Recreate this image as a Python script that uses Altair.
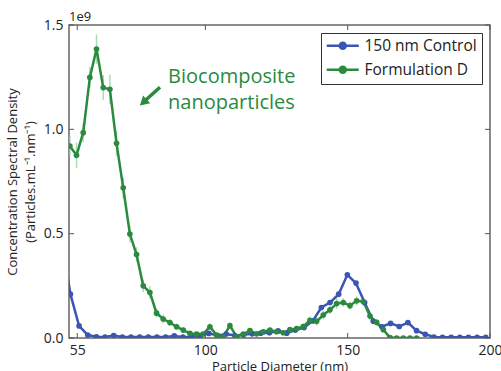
import altair as alt
import pandas as pd

series_names = ["150 nm Control", "Formulation D"]
series_colors = ["#3a56b0", "#2a8a3e"]

green_x = [52.4, 54.74, 57.09, 59.43, 61.77, 64.12, 66.46, 68.8, 71.14, 73.49,
           75.83, 78.17, 80.52, 82.86, 85.2, 87.55, 89.89, 92.23, 94.57, 96.92,
           99.26, 101.6, 103.95, 106.29, 108.63, 110.98, 113.32, 115.66, 118.0, 120.35,
           122.69, 125.03, 127.38, 129.72, 132.06, 134.41, 136.75, 139.09, 141.43, 143.78,
           146.12, 148.46, 150.81, 153.15, 155.49, 157.84, 160.18, 162.52, 164.86, 167.21,
           169.55, 171.89, 174.24]
green_y = [0.92, 0.876, 0.984, 1.249, 1.385, 1.20, 1.192, 0.933, 0.72, 0.498,
           0.40, 0.25, 0.218, 0.119, 0.091, 0.074, 0.054, 0.038, 0.022, 0.019,
           0.019, 0.054, 0.014, 0.006, 0.059, 0.006, 0.019, 0.035, 0.02, 0.03,
           0.038, 0.03, 0.025, 0.04, 0.045, 0.055, 0.085, 0.08, 0.11, 0.135,
           0.165, 0.17, 0.155, 0.178, 0.175, 0.105, 0.075, 0.04, 0.002, 0.0,
           0.0, 0.0, 0.0]
green_err = [0.05, 0.06, 0.045, 0.05, 0.07, 0.06, 0.07, 0.06, 0.05, 0.04,
             0.035, 0.03, 0.03, 0.02, 0.02, 0.015, 0.015, 0.012, 0.01, 0.01,
             0.01, 0.015, 0.01, 0.008, 0.015, 0.008, 0.01, 0.012, 0.01, 0.01,
             0.012, 0.01, 0.01, 0.012, 0.012, 0.015, 0.018, 0.02, 0.02, 0.02,
             0.025, 0.02, 0.02, 0.022, 0.02, 0.02, 0.015, 0.012, 0.005, 0.003,
             0.003, 0.003, 0.003]

blue_x = [49.56, 52.6, 55.64, 58.68, 61.72, 64.76, 67.8, 70.84, 73.88, 76.92,
          79.96, 83.0, 86.04, 89.08, 92.12, 95.16, 98.2, 101.24, 104.28, 107.32,
          110.36, 113.4, 116.44, 119.48, 122.52, 125.56, 128.6, 131.64, 134.68, 137.72,
          140.76, 143.8, 146.84, 149.88, 152.92, 155.96, 159.0, 162.04, 165.08, 168.12,
          171.16, 174.2, 177.24, 180.28, 183.32, 186.36, 189.4, 192.44, 195.48, 198.52]
blue_y = [0.47, 0.21, 0.058, 0.014, 0.006, 0.005, 0.012, 0.005, 0.005, 0.005,
          0.005, 0.005, 0.005, 0.01, 0.005, 0.005, 0.01, 0.022, 0.012, 0.019,
          0.012, 0.015, 0.02, 0.023, 0.025, 0.034, 0.023, 0.038, 0.05, 0.082,
          0.146, 0.17, 0.21, 0.303, 0.263, 0.17, 0.08, 0.054, 0.07, 0.055,
          0.074, 0.035, 0.018, 0.005, 0.003, 0.003, 0.003, 0.003, 0.003, 0.003]

x_ticks = [55, 100, 150, 200]
y_ticks = [0.0, 0.5, 1.0, 1.5]

annot_x = [86.9, 86.9]
annot_y = [1.25, 1.125]
annot_text = ["Biocomposite", "nanoparticles"]
arrow_tail = (84.06, 1.202)
arrow_body_end = (78.3, 1.131)
arrow_head = (78.2, 1.129)

W, H = 421, 313
FONT = "Open Sans"
X_TITLE = "Particle Diameter (nm)"
Y_TITLE = ["Concentration Spectral Density", "(Particles.mL\u207b\u00b9.nm\u207b\u00b9)"]

x_scale = alt.Scale(domain=[52.1, 200], nice=False, zero=False)
y_scale = alt.Scale(domain=[0, 1.5], nice=False)

x_axis = alt.Axis(values=x_ticks, format="d", title=X_TITLE,
                  ticks=False, domain=False, grid=False, labelPadding=5,
                  titlePadding=3, labelFlush=False)
y_axis = alt.Axis(values=y_ticks, format=".1f", title=Y_TITLE,
                  ticks=False, domain=False, grid=False, labelPadding=6,
                  titlePadding=6, labelFlush=False)


def X(field):
    return alt.X(field, scale=x_scale, axis=x_axis, title=X_TITLE)


def Y(field):
    return alt.Y(field, scale=y_scale, axis=y_axis, title=Y_TITLE)


df = pd.concat([
    pd.DataFrame({"x": blue_x, "y": blue_y, "series": series_names[0]}),
    pd.DataFrame({"x": green_x, "y": green_y, "series": series_names[1]}),
], ignore_index=True)
gdf = pd.DataFrame({"x": green_x, "y": green_y, "err": green_err})

legend_path = "M-3.2,0L3.2,0M-0.6,0A0.6,0.6,0,1,1,0.6,0A0.6,0.6,0,1,1,-0.6,0Z"
color_enc = alt.Color("series:N", scale=alt.Scale(domain=series_names, range=series_colors),
                      legend=alt.Legend(title=None, orient="top-right", offset=8,
                                        fillColor="white", strokeColor="#333",
                                        padding=5, labelFontSize=15.5, labelFont=FONT,
                                        labelColor="#222", symbolType=legend_path,
                                        symbolSize=100, symbolStrokeWidth=2.5,
                                        symbolOffset=9, labelOffset=14, rowPadding=6))

err = alt.Chart(gdf).transform_calculate(
    lo="datum.y - datum.err", hi="datum.y + datum.err"
).mark_rule(color="#86cc92", opacity=0.7, strokeWidth=1.5, clip=True).encode(
    x=X("x:Q"), y=Y("lo:Q"), y2="hi:Q",
)

lines = alt.Chart(df).mark_line(strokeWidth=2.5, clip=True).encode(
    x=X("x:Q"), y=Y("y:Q"), color=color_enc, order="x:Q")
points = alt.Chart(df).mark_circle(size=32, opacity=1, clip=True).encode(
    x=X("x:Q"), y=Y("y:Q"), color=color_enc)

xt = pd.DataFrame({"x": x_ticks})
yt = pd.DataFrame({"y": y_ticks})
tick_color = "#555"
xt_bottom = alt.Chart(xt).mark_rule(color=tick_color).encode(
    x=X("x:Q"), y=alt.value(H), y2=alt.value(H - 5))
xt_top = alt.Chart(xt).mark_rule(color=tick_color).encode(
    x=X("x:Q"), y=alt.value(0), y2=alt.value(5))
yt_left = alt.Chart(yt).mark_rule(color=tick_color).encode(
    y=Y("y:Q"), x=alt.value(0), x2=alt.value(5))
yt_right = alt.Chart(yt).mark_rule(color=tick_color).encode(
    y=Y("y:Q"), x=alt.value(W - 5), x2=alt.value(W))

exp_text = alt.Chart(pd.DataFrame({"t": ["1e9"]})).mark_text(
    align="left", baseline="bottom", fontSize=13, font=FONT, color="#222"
).encode(text="t:N", x=alt.value(0), y=alt.value(-1))

adf = pd.DataFrame({"x": annot_x, "y": annot_y, "t": annot_text})
annot = alt.Chart(adf).mark_text(
    align="left", baseline="middle", fontSize=20, font=FONT, color="#2a8a3e"
).encode(x=X("x:Q"), y=Y("y:Q"), text="t:N")

arrow_df = pd.DataFrame({"x": [arrow_tail[0]], "y": [arrow_tail[1]],
                         "x2": [arrow_body_end[0]], "y2": [arrow_body_end[1]]})
head_df = pd.DataFrame({"x": [arrow_head[0]], "y": [arrow_head[1]]})
arrow_line = alt.Chart(arrow_df).mark_rule(color="#2a8a3e", strokeWidth=3.5).encode(
    x=X("x:Q"), y=Y("y:Q"), x2="x2:Q", y2="y2:Q")
arrow_head_mark = alt.Chart(head_df).mark_point(
    shape="triangle-up", filled=True, color="#2a8a3e", size=110, angle=228, opacity=1
).encode(x=X("x:Q"), y=Y("y:Q"))

chart = alt.layer(
    err, lines, points, xt_bottom, xt_top, yt_left, yt_right,
    exp_text, annot, arrow_line, arrow_head_mark
).properties(
    width=W, height=H, autosize=alt.AutoSizeParams(type="none"),
    padding={"left": 69, "top": 25, "right": 11, "bottom": 33},
    background="white",
).configure_view(
    stroke="#666", strokeWidth=1.5
).configure_axis(
    labelFont=FONT, titleFont=FONT, labelFontSize=14, titleFontSize=13,
    labelColor="#222", titleColor="#222", titleFontWeight="normal", titleLineHeight=18,
)

chart.save("out.html", embed_options={"renderer": "svg", "actions": False})
